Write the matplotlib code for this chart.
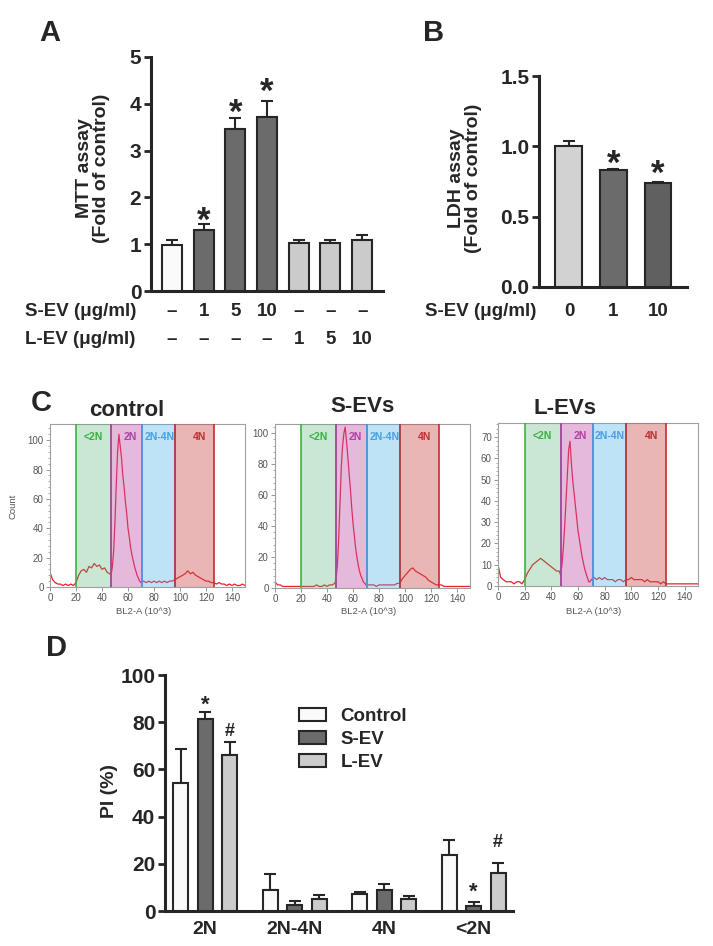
import numpy as np
import matplotlib
matplotlib.use("Agg")
from matplotlib import pyplot as plt
from matplotlib.patches import Patch
from matplotlib.ticker import MultipleLocator

plt.rcParams['font.family'] = ['Liberation Sans', 'DejaVu Sans']

W, H = 713, 946
INK = '#262626'
WHITE_BAR = '#fafafa'
DARK_BAR = '#6b6b6b'
LIGHT_BAR = '#cbcbcb'

# panel A - MTT assay
mtt_mean = [0.98, 1.30, 3.46, 3.72, 1.03, 1.03, 1.10]
mtt_err = [0.10, 0.13, 0.24, 0.33, 0.05, 0.05, 0.09]
mtt_sev = ['–', '1', '5', '10', '–', '–', '–']
mtt_lev = ['–', '–', '–', '–', '1', '5', '10']
mtt_star = [None, 1.72, 4.03, 4.47, None, None, None]
mtt_colors = [WHITE_BAR, DARK_BAR, DARK_BAR, DARK_BAR, LIGHT_BAR, LIGHT_BAR, LIGHT_BAR]

# panel B - LDH assay
ldh_dose = ['0', '1', '10']
ldh_mean = [1.005, 0.83, 0.738]
ldh_err = [0.03, 0.007, 0.008]
ldh_star = [None, 0.946, 0.88]
ldh_colors = ['#d2d2d2', '#6b6b6b', '#606060']

# panel C - PI histograms (BL2-A x10^3 vs count)
hist_x = [0, 2, 4, 6, 8, 10, 12, 14, 16, 18, 20, 22, 24, 26, 28, 30, 32, 34, 36, 38, 40, 42, 44, 46,
          47, 48, 49, 50, 51, 52, 53, 54, 55, 56, 57, 58, 59, 60, 61, 62, 63, 64, 65, 66, 67, 68, 69, 70,
          72, 74, 76, 78, 80, 82, 84, 86, 88, 90, 92, 94, 96, 98, 100, 102, 104, 106, 108, 110,
          112, 114, 116, 118, 120, 122, 124, 126, 128, 130, 132, 134, 136, 138, 140, 142, 144, 146, 148, 150]
hist_ctrl = [10, 5, 3, 2, 2, 1, 2, 1, 2, 1, 3, 8, 11, 12, 10, 14, 13, 16, 14, 15, 12, 13, 10, 9,
             8, 14, 25, 45, 70, 92, 104, 96, 88, 76, 68, 58, 50, 40, 34, 27, 22, 18, 14, 11, 8, 6, 4, 3,
             4, 3, 4, 3, 4, 3, 4, 3, 4, 3, 4, 4, 5, 6, 7, 8, 9, 11, 9, 10,
             8, 7, 6, 5, 4, 4, 3, 3, 2, 3, 2, 2, 1, 2, 1, 2, 1, 1, 2, 1]
hist_sev = [4, 2, 2, 1, 1, 1, 1, 1, 1, 1, 1, 1, 1, 1, 1, 1, 2, 1, 1, 2, 1, 2, 2, 3,
            6, 15, 32, 55, 78, 92, 100, 104, 95, 85, 74, 64, 52, 42, 34, 26, 20, 15, 11, 8, 6, 4, 3, 2,
            2, 2, 2, 1, 2, 2, 2, 2, 2, 2, 2, 3, 3, 6, 8, 10, 12, 13, 11, 10,
            9, 8, 7, 5, 4, 3, 2, 2, 2, 1, 1, 1, 1, 1, 1, 1, 1, 1, 1, 1]
hist_lev = [10, 4, 3, 2, 2, 2, 1, 2, 2, 1, 3, 6, 8, 10, 11, 12, 13, 12, 11, 10, 9, 8, 7, 7,
            5, 10, 18, 28, 40, 52, 64, 68, 58, 50, 44, 38, 32, 26, 22, 18, 14, 11, 8, 6, 4, 2, 2, 3,
            4, 3, 4, 3, 4, 3, 3, 3, 2, 3, 3, 2, 3, 3, 4, 3, 3, 3, 3, 2,
            3, 2, 2, 2, 2, 1, 2, 1, 1, 1, 1, 1, 1, 1, 1, 1, 1, 1, 1, 1]
hist_titles = ['control', 'S-EVs', 'L-EVs']
hist_ymax = [111, 106, 76.6]
hist_ystep = [20, 20, 10]
gate_names = ['<2N', '2N', '2N-4N', '4N']
gate_edges = [20, 47, 71, 96, 126]
gate_label_x = [33, 62, 84, 115]
gate_fill = ['#50b070', '#c050a8', '#4ab0e8', '#c84848']
gate_alpha = [0.3, 0.4, 0.35, 0.4]
gate_line = ['#3cb043', '#b040a8', '#4a9fe0', '#c03030']

# panel D - PI (%) per phase
phases = ['2N', '2N-4N', '4N', '<2N']
pi_ctrl = [54.1, 9.0, 7.3, 23.7]
pi_ctrl_err = [14.5, 6.8, 0.9, 6.4]
pi_sev = [81.2, 2.5, 8.8, 2.0]
pi_sev_err = [3.0, 1.9, 2.5, 1.7]
pi_lev = [66.0, 4.9, 5.2, 16.1]
pi_lev_err = [5.5, 1.9, 1.3, 4.2]
pi_marks = [('*', 0, 1, 90), ('#', 0, 2, 76.7), ('*', 3, 1, 11), ('#', 3, 2, 29.8)]

fig = plt.figure(figsize=(W / 100, H / 100), dpi=100)


def px_axes(l, t, r, b):
    return fig.add_axes([l / W, 1 - b / H, (r - l) / W, (b - t) / H])


def ftext(x, y, s, **kw):
    kw.setdefault('color', INK)
    return fig.text(x / W, 1 - y / H, s, **kw)


def style_bar_axes(ax, ticks, labelsize=15):
    for s in ('top', 'right'):
        ax.spines[s].set_visible(False)
    for s in ('left', 'bottom'):
        ax.spines[s].set_linewidth(2.2)
        ax.spines[s].set_color(INK)
    ax.set_yticks(ticks)
    ax.tick_params(axis='y', direction='out', length=5, width=2, color=INK,
                   labelsize=labelsize, labelcolor=INK, pad=2)
    plt.setp(ax.get_yticklabels(), fontweight='bold')
    ax.tick_params(axis='x', length=0, labelbottom=False)


def mark(ax, x, y, s, size):
    # shift so the glyph itself (not the line box) is centred on y
    off = -0.31 * size if s == '*' else -0.1 * size
    ax.annotate(s, xy=(x, y), xytext=(0, off), textcoords='offset points',
                ha='center', va='center', fontsize=size, fontweight='bold', color=INK)


def bars(ax, x, mean, err, colors, width):
    ax.bar(x, mean, width, color=colors, edgecolor=INK, linewidth=1.5, zorder=3)
    ax.errorbar(x, mean, yerr=[np.zeros(len(mean)), err], fmt='none', ecolor=INK,
                elinewidth=1.5, capsize=4.5, capthick=1.5, zorder=2)


# ---------------- A ----------------
axA = px_axes(151, 57, 383, 291)
xa = np.arange(len(mtt_mean))
bars(axA, xa, mtt_mean, mtt_err, mtt_colors, 0.63)
axA.set_xlim(-0.66, 6.66)
axA.set_ylim(0, 5)
style_bar_axes(axA, [0, 1, 2, 3, 4, 5])
for i, s in enumerate(mtt_star):
    if s is not None:
        mark(axA, i, s, '*', 25)
for i in xa:
    xf = (172 + i * 31.7) / W
    fig.text(xf, 1 - 311 / H, mtt_sev[i], ha='center', va='center', fontsize=13.5,
             fontweight='bold', color=INK)
    fig.text(xf, 1 - 339 / H, mtt_lev[i], ha='center', va='center', fontsize=13.5,
             fontweight='bold', color=INK)
ftext(25, 311, 'S-EV (μg/ml)', ha='left', va='center', fontsize=13.5, fontweight='bold')
ftext(25, 339, 'L-EV (μg/ml)', ha='left', va='center', fontsize=13.5, fontweight='bold')
ftext(93, 168, 'MTT assay\n(Fold of control)', rotation=90, ha='center', va='center',
      fontsize=14, fontweight='bold', multialignment='center', linespacing=1.05)
ftext(50, 33, 'A', ha='center', va='center', fontsize=21, fontweight='bold')

# ---------------- B ----------------
axB = px_axes(539, 76, 687, 287)
xb = np.arange(len(ldh_mean))
bars(axB, xb, ldh_mean, ldh_err, ldh_colors, 0.6)
axB.set_xlim(-0.67, 2.65)
axB.set_ylim(0, 1.5)
style_bar_axes(axB, [0, 0.5, 1.0, 1.5])
axB.set_yticklabels(['0.0', '0.5', '1.0', '1.5'], fontweight='bold')
for i, s in enumerate(ldh_star):
    if s is not None:
        mark(axB, i, s, '*', 25)
for i in xb:
    fig.text((569 + i * 44.5) / W, 1 - 311 / H, ldh_dose[i], ha='center', va='center',
             fontsize=13.5, fontweight='bold', color=INK)
ftext(425, 311, 'S-EV (μg/ml)', ha='left', va='center', fontsize=13.5, fontweight='bold')
ftext(465, 178, 'LDH assay\n(Fold of control)', rotation=90, ha='center', va='center',
      fontsize=14, fontweight='bold', multialignment='center', linespacing=1.05)
ftext(434, 33, 'B', ha='center', va='center', fontsize=21, fontweight='bold')

# ---------------- C ----------------
hist_boxes = [(50, 424, 245, 587), (275, 424, 470, 588), (498, 423, 698, 586)]
hist_counts = [hist_ctrl, hist_sev, hist_lev]
title_pos = [(127, 410), (362, 407), (565, 408)]
for k in range(3):
    ax = px_axes(*hist_boxes[k])
    ax.plot(hist_x, hist_counts[k], color='#e8202c', lw=0.9, zorder=2)
    for g in range(4):
        lo, hi = gate_edges[g], gate_edges[g + 1]
        ax.axvspan(lo, hi, color=gate_fill[g], alpha=gate_alpha[g], lw=0, zorder=3)
    for g in range(4):
        ax.axvline(gate_edges[g + 1], color=gate_line[g], lw=1.2, zorder=4)
    for g in range(4):
        ax.axvline(gate_edges[g], color=gate_line[g], lw=1.2, zorder=4)
        ax.text(gate_label_x[g], 0.92, gate_names[g], transform=ax.get_xaxis_transform(),
                ha='center', va='center', fontsize=7.5, fontweight='bold', color=gate_line[g], zorder=5)
    ax.set_xlim(0, 150)
    ax.set_ylim(0, hist_ymax[k])
    ax.set_xticks(range(0, 141, 20))
    ax.yaxis.set_major_locator(MultipleLocator(hist_ystep[k]))
    ax.yaxis.set_minor_locator(MultipleLocator(hist_ystep[k] / 5))
    ax.tick_params(which='both', direction='out', color='#888888', labelsize=7, labelcolor='#555555', pad=1.5)
    ax.tick_params(which='major', length=3, width=0.6)
    ax.tick_params(which='minor', length=1.5, width=0.5)
    for s in ax.spines.values():
        s.set_color('#a0a0a0')
        s.set_linewidth(0.8)
    cx = (hist_boxes[k][0] + hist_boxes[k][2]) / 2
    ftext(cx - 4, 611, 'BL2-A (10^3)', ha='center', va='center', fontsize=6.8, color='#555555')
    ftext(title_pos[k][0], title_pos[k][1], hist_titles[k], ha='center', va='center',
          fontsize=16, fontweight='bold')
ftext(13, 506, 'Count', rotation=90, ha='center', va='center', fontsize=6.8, color='#555555')
ftext(41, 403, 'C', ha='center', va='center', fontsize=21, fontweight='bold')

# ---------------- D ----------------
axD = px_axes(165, 675, 513, 911)
xd = np.arange(len(phases))
off, bw = 0.274, 0.168
series = [(pi_ctrl, pi_ctrl_err, WHITE_BAR), (pi_sev, pi_sev_err, DARK_BAR), (pi_lev, pi_lev_err, LIGHT_BAR)]
for j, (m, e, c) in enumerate(series):
    bars(axD, xd + (j - 1) * off, m, e, [c] * len(m), bw)
axD.set_xlim(-0.45, 3.44)
axD.set_ylim(0, 100)
style_bar_axes(axD, [0, 20, 40, 60, 80, 100])
axD.tick_params(axis='x', labelbottom=True, labelsize=14, labelcolor=INK, pad=7)
axD.set_xticks(xd, phases, fontweight='bold')
for s, g, j, y in pi_marks:
    mark(axD, g + (j - 1) * off, y, s, 16 if s == '*' else 13)
handles = [Patch(facecolor=c, edgecolor=INK, linewidth=1.5) for c in (WHITE_BAR, DARK_BAR, LIGHT_BAR)]
fig.legend(handles, ['Control', 'S-EV', 'L-EV'], loc='upper left',
           bbox_to_anchor=(299 / W, 1 - 708 / H), frameon=False,
           prop={'weight': 'bold', 'size': 13.5}, handlelength=1.45, handleheight=0.7,
           handletextpad=0.75, labelspacing=0.32, borderpad=0, borderaxespad=0, labelcolor=INK)
ftext(110, 791, 'PI (%)', rotation=90, ha='center', va='center', fontsize=14, fontweight='bold')
ftext(57, 648, 'D', ha='center', va='center', fontsize=21, fontweight='bold')

fig.savefig('out.png', dpi=100, facecolor='white')
